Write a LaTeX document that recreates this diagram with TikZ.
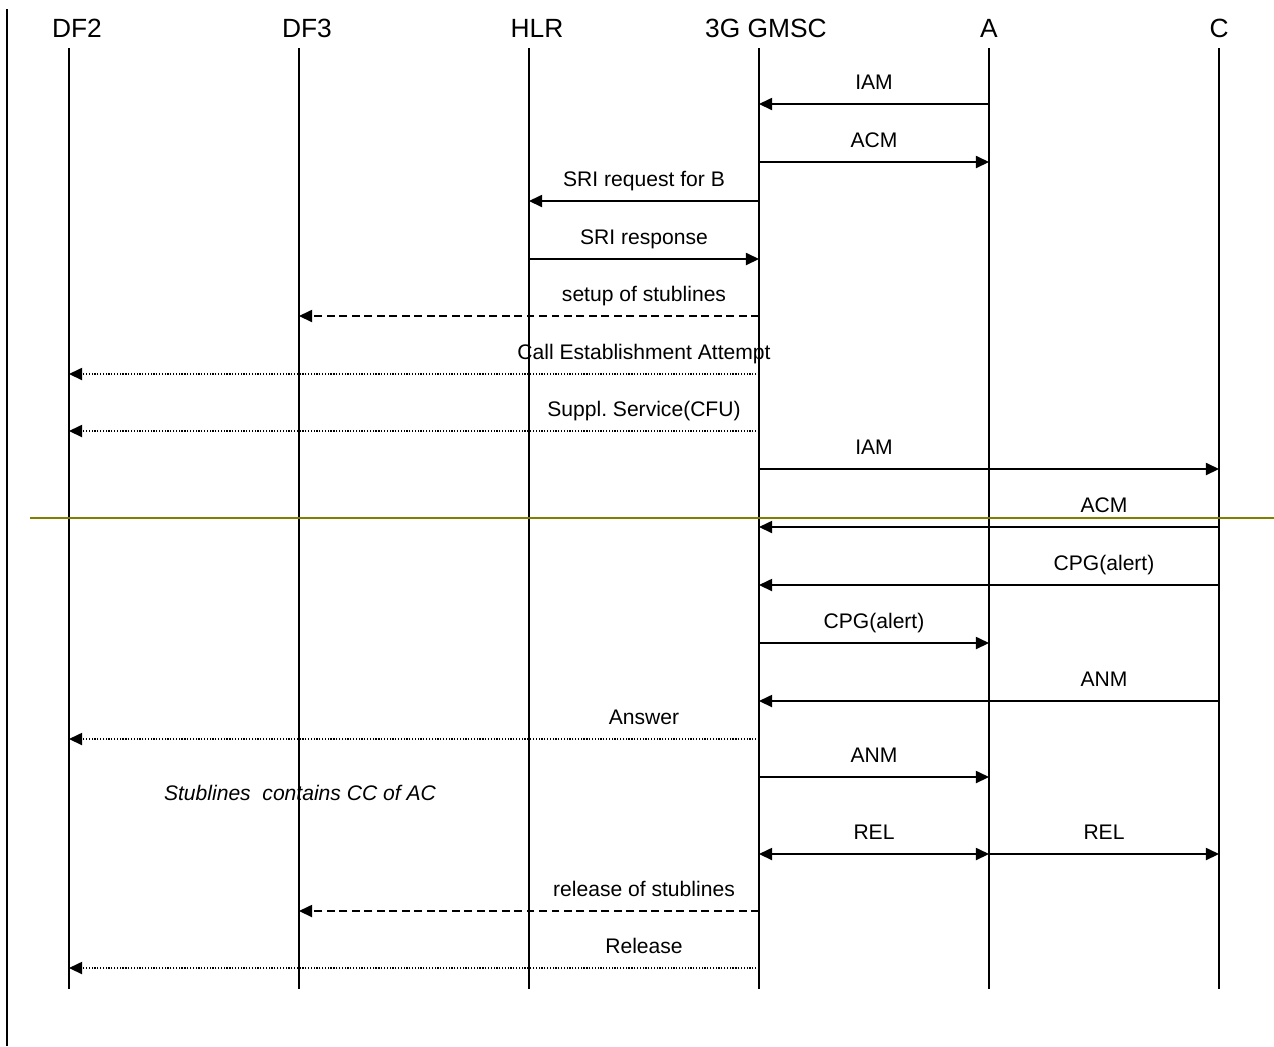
\documentclass[tikz,border=0pt]{standalone}
\usepackage{fontspec}
\setmainfont{Liberation Sans}
\usepackage{xcolor}
\usepackage{tikz}
\usetikzlibrary{positioning,calc,arrows.meta}
\definecolor{olivebar}{RGB}{128,128,0}
\frenchspacing

\begin{document}
\begin{tikzpicture}[x=0.02cm, y=-0.02cm,
  head/.style={font=\fontsize{15}{18}\selectfont, inner sep=0pt},
  life/.style={line width=0.8pt},
  msg/.style={line width=0.75pt, -{Triangle[length=7.5pt, width=7pt]}},
  dashmsg/.style={msg, dash pattern=on 4.5pt off 2.6pt},
  dotmsg/.style={msg, dash pattern=on 0.7pt off 0.9pt},
  lbl/.style={font=\fontsize{12}{14}\selectfont, inner sep=0pt, anchor=base}]
  \useasboundingbox (0,0) rectangle (1274,1046);

  % Left margin rule
  \draw[line width=0.8pt] (7,9) -- (7,1046);

  % Lifeline tops
  \coordinate (df2) at (69,48);
  \coordinate (df3) at (299,48);
  \coordinate (hlr) at (529,48);
  \coordinate (gmsc) at (759,48);
  \coordinate (a) at (989,48);
  \coordinate (c) at (1219,48);
  \coordinate (bot) at (0,989);

  % Entities
  \node[head] (hdf2)  at ($(df2)+(8,-20)$)  {DF2};
  \node[head] (hdf3)  at ($(df3)+(8,-20)$)  {DF3};
  \node[head] (hhlr)  at ($(hlr)+(8,-20)$)  {HLR};
  \node[head] (hgmsc) at ($(gmsc)+(7,-20)$) {3G GMSC};
  \node[head] (ha)    at ($(a)+(0,-20)$)    {A};
  \node[head] (hc)    at ($(c)+(0,-20)$)    {C};

  % Lifelines
  \draw[life] (df2)  -- (df2 |- bot);
  \draw[life] (df3)  -- (df3 |- bot);
  \draw[life] (hlr)  -- (hlr |- bot);
  \draw[life] (gmsc) -- (gmsc |- bot);
  \draw[life] (a)    -- (a |- bot);
  \draw[life] (c)    -- (c |- bot);

  % Olive marker line
  \draw[olivebar, line width=0.6pt] (30,518) -- (1274,518);

  % Incoming call from A
  \coordinate (m1) at (0,104);
  \draw[msg] (a |- m1) -- (gmsc |- m1);
  \node[lbl] (l1) at ($(gmsc |- m1)!0.5!(a |- m1) + (0,-15)$) {IAM};
  \coordinate (m2) at (0,162);
  \draw[msg] (gmsc |- m2) -- (a |- m2);
  \node[lbl] (l2) at ($(gmsc |- m2)!0.5!(a |- m2) + (0,-15)$) {ACM};

  % Routing info
  \coordinate (m3) at (0,201);
  \draw[msg] (gmsc |- m3) -- (hlr |- m3);
  \node[lbl] (l3) at ($(hlr |- m3)!0.5!(gmsc |- m3) + (0,-15)$) {SRI request for B};
  \coordinate (m4) at (0,259);
  \draw[msg] (hlr |- m4) -- (gmsc |- m4);
  \node[lbl] (l4) at ($(hlr |- m4)!0.5!(gmsc |- m4) + (0,-15)$) {SRI response};

  % Stublines and IRI
  \coordinate (m5) at (0,316);
  \draw[dashmsg] (gmsc |- m5) -- (df3 |- m5);
  \node[lbl] (l5) at ($(hlr |- m5)!0.5!(gmsc |- m5) + (0,-15)$) {setup of stublines};
  \coordinate (m6) at (0,374);
  \draw[dotmsg] (gmsc |- m6) -- (df2 |- m6);
  \node[lbl] (l6) at ($(hlr |- m6)!0.5!(gmsc |- m6) + (0,-15)$) {Call Establishment Attempt};
  \coordinate (m7) at (0,431);
  \draw[dotmsg] (gmsc |- m7) -- (df2 |- m7);
  \node[lbl] (l7) at ($(hlr |- m7)!0.5!(gmsc |- m7) + (0,-15)$) {Suppl. Service(CFU)};

  % Forwarded call to C
  \coordinate (m8) at (0,469);
  \draw[msg] (gmsc |- m8) -- (c |- m8);
  \node[lbl] (l8) at ($(gmsc |- m8)!0.5!(a |- m8) + (0,-15)$) {IAM};
  \coordinate (m9) at (0,527);
  \draw[msg] (c |- m9) -- (gmsc |- m9);
  \node[lbl] (l9) at ($(a |- m9)!0.5!(c |- m9) + (0,-15)$) {ACM};
  \coordinate (m10) at (0,585);
  \draw[msg] (c |- m10) -- (gmsc |- m10);
  \node[lbl] (l10) at ($(a |- m10)!0.5!(c |- m10) + (0,-15)$) {CPG(alert)};
  \coordinate (m11) at (0,643);
  \draw[msg] (gmsc |- m11) -- (a |- m11);
  \node[lbl] (l11) at ($(gmsc |- m11)!0.5!(a |- m11) + (0,-15)$) {CPG(alert)};
  \coordinate (m12) at (0,701);
  \draw[msg] (c |- m12) -- (gmsc |- m12);
  \node[lbl] (l12) at ($(a |- m12)!0.5!(c |- m12) + (0,-15)$) {ANM};
  \coordinate (m13) at (0,739);
  \draw[dotmsg] (gmsc |- m13) -- (df2 |- m13);
  \node[lbl] (l13) at ($(hlr |- m13)!0.5!(gmsc |- m13) + (0,-15)$) {Answer};
  \coordinate (m14) at (0,777);
  \draw[msg] (gmsc |- m14) -- (a |- m14);
  \node[lbl] (l14) at ($(gmsc |- m14)!0.5!(a |- m14) + (0,-15)$) {ANM};

  % Note
  \node[font=\fontsize{12}{14}\selectfont\itshape, inner sep=0pt] (note) at (300,793) {Stublines\ \ contains CC of AC};

  % Release
  \coordinate (m15) at (0,854);
  \draw[msg, {Triangle[length=7.5pt, width=7pt]}-{Triangle[length=7.5pt, width=7pt]}] (gmsc |- m15) -- (a |- m15);
  \node[lbl] (l15) at ($(gmsc |- m15)!0.5!(a |- m15) + (0,-15)$) {REL};
  \draw[msg] (a |- m15) -- (c |- m15);
  \node[lbl] (l16) at ($(a |- m15)!0.5!(c |- m15) + (0,-15)$) {REL};
  \coordinate (m17) at (0,911);
  \draw[dashmsg] (gmsc |- m17) -- (df3 |- m17);
  \node[lbl] (l17) at ($(hlr |- m17)!0.5!(gmsc |- m17) + (0,-15)$) {release of stublines};
  \coordinate (m18) at (0,968);
  \draw[dotmsg] (gmsc |- m18) -- (df2 |- m18);
  \node[lbl] (l18) at ($(hlr |- m18)!0.5!(gmsc |- m18) + (0,-15)$) {Release};
\end{tikzpicture}
\end{document}
